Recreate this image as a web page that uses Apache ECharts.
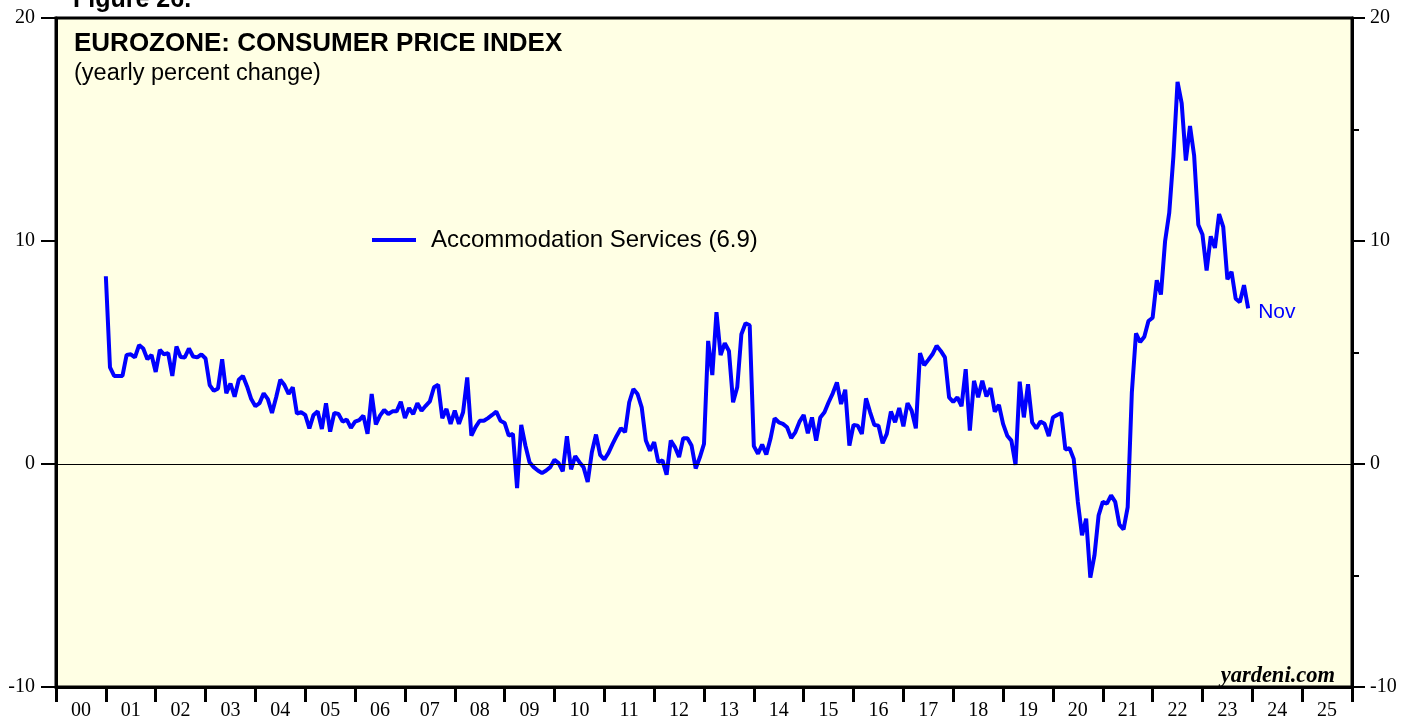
<!DOCTYPE html>
<html>
<head>
<meta charset="utf-8">
<script src="https://cdn.jsdelivr.net/npm/echarts@6/dist/echarts.min.js"></script>
<style>
html,body{margin:0;padding:0;background:#fff;}
#chart{width:1417px;height:721px;}
</style>
</head>
<body>
<div id="chart"></div>
<script>
// Monthly series starts Dec 2000 and ends Nov 2023
const startYear = 2000;
const startMonth = 12;
const seriesName = 'Accommodation Services (6.9)';
const lastLabel = 'Nov';
const yearLabels = ['00','01','02','03','04','05','06','07','08','09','10','11','12','13','14','15','16','17','18','19','20','21','22','23','24','25'];
const yTicks = [-10, 0, 10, 20];

const vals2000_2004 = [8.42,
  4.33,3.95,3.95,3.95,4.89,4.92,4.78,5.33,5.18,4.70,4.89,4.13,
  5.12,4.92,4.97,3.95,5.27,4.80,4.78,5.18,4.82,4.78,4.92,4.73,
  3.54,3.28,3.39,4.70,3.17,3.61,3.02,3.78,3.95,3.48,2.91,2.59,
  2.73,3.17,2.91,2.29,2.99,3.78,3.54,3.14,3.44,2.26,2.32,2.20];
const vals2005_2008 = [
  1.60,2.20,2.36,1.57,2.72,1.45,2.29,2.24,1.90,1.99,1.62,1.90,
  1.97,2.17,1.35,3.14,1.77,2.17,2.42,2.24,2.36,2.36,2.79,2.06,
  2.51,2.24,2.72,2.39,2.61,2.81,3.44,3.55,2.05,2.47,1.80,2.39,
  1.80,2.32,3.88,1.27,1.65,1.94,1.94,2.06,2.20,2.35,1.94,1.84];
const vals2009_2012 = [
  1.27,1.35,-1.08,1.75,0.83,0.08,-0.14,-0.29,-0.41,-0.29,-0.14,0.19,
  0.04,-0.33,1.25,-0.24,0.35,0.08,-0.14,-0.81,0.53,1.32,0.41,0.20,
  0.50,0.90,1.27,1.60,1.43,2.77,3.36,3.14,2.54,1.05,0.60,0.98,
  0.08,0.16,-0.48,1.05,0.76,0.31,1.16,1.16,0.83,-0.20,0.30,0.90];
const vals2013_2016 = [
  5.52,3.99,6.81,4.88,5.42,5.07,2.77,3.44,5.82,6.31,6.22,0.80,
  0.46,0.87,0.43,1.13,2.05,1.87,1.80,1.65,1.16,1.43,1.90,2.20,
  1.38,2.09,1.05,2.09,2.32,2.77,3.17,3.66,2.69,3.33,0.83,1.75,
  1.72,1.35,2.94,2.32,1.75,1.72,0.93,1.35,2.35,1.87,2.51,1.69];
const vals2017_2020 = [
  2.73,2.39,1.60,4.97,4.43,4.67,4.92,5.30,5.07,4.78,2.99,2.79,
  2.99,2.59,4.25,1.50,3.73,2.99,3.73,3.03,3.40,2.35,2.65,1.80,
  1.27,1.05,-0.04,3.69,2.09,3.58,1.87,1.60,1.90,1.80,1.25,2.09,
  2.20,2.29,0.65,0.71,0.23,-1.70,-3.20,-2.45,-5.10,-4.10,-2.30,-1.70];
const vals2021_2023 = [
  -1.78,-1.41,-1.70,-2.72,-2.93,-1.93,3.21,5.86,5.47,5.71,6.41,6.56,
  8.24,7.60,9.99,11.26,13.78,17.14,16.17,13.61,15.16,13.82,10.73,10.29,
  8.68,10.21,9.69,11.21,10.63,8.28,8.62,7.41,7.26,8.02,6.98];

const values = [].concat(vals2000_2004, vals2005_2008, vals2009_2012, vals2013_2016, vals2017_2020, vals2021_2023);
const seriesData = values.map(function (v, i) {
  const m = startMonth + i;
  return [startYear + m / 12, v];
});

const chart = echarts.init(document.getElementById('chart'));
const serif = 'Liberation Serif';
const sans = 'Liberation Sans';
chart.setOption({
  animation: false,
  backgroundColor: '#ffffff',
  grid: {
    left: 56, right: 65, top: 18, bottom: 32,
    show: true, backgroundColor: '#FFFFE4', borderColor: '#000', borderWidth: 3
  },
  title: [
    { text: 'Figure 26.', left: 68, top: -17, textStyle: { fontFamily: sans, fontWeight: 'bold', fontSize: 25, color: '#000' } },
    { text: 'EUROZONE: CONSUMER PRICE INDEX', left: 69, top: 26, textStyle: { fontFamily: sans, fontWeight: 'bold', fontSize: 26, color: '#000' } },
    { text: '(yearly percent change)', left: 69, top: 57, textStyle: { fontFamily: sans, fontWeight: 'normal', fontSize: 23.5, color: '#000' } },
    { text: 'yardeni.com', right: 77, top: 660, textStyle: { fontFamily: serif, fontWeight: 'bold', fontStyle: 'italic', fontSize: 22.5, color: '#000' } }
  ],
  legend: {
    data: [seriesName], left: 372, top: 228, padding: 0, icon: 'rect', itemWidth: 44, itemHeight: 4,
    textStyle: { fontFamily: sans, fontSize: 24, color: '#000', padding: [0, 0, 0, 10] }
  },
  xAxis: [
    {
      type: 'value', min: 2000, max: 2026, interval: 1,
      axisLine: { show: true, onZero: false, lineStyle: { color: '#000', width: 3 } },
      axisTick: { show: true, inside: false, length: 15, lineStyle: { color: '#000', width: 3 } },
      axisLabel: { show: false }, splitLine: { show: false }
    },
    {
      type: 'category', data: yearLabels, position: 'bottom', boundaryGap: true,
      axisLine: { show: false, onZero: false }, axisTick: { show: false }, splitLine: { show: false },
      axisLabel: { fontFamily: serif, fontSize: 20, color: '#000', margin: 14, interval: 0 }
    }
  ],
  yAxis: [
    {
      type: 'value', position: 'left', min: yTicks[0], max: yTicks[yTicks.length - 1], interval: 10,
      axisLine: { show: true, lineStyle: { color: '#000', width: 3 } },
      axisTick: { show: true, inside: false, length: 15, lineStyle: { color: '#000', width: 2 } },
      axisLabel: { fontFamily: serif, fontSize: 20, color: '#000', margin: 21 },
      splitLine: { show: false }
    },
    {
      type: 'value', position: 'right', min: yTicks[0], max: yTicks[yTicks.length - 1], interval: 10,
      axisLine: { show: true, lineStyle: { color: '#000', width: 3 } },
      axisTick: { show: true, inside: false, length: 13, lineStyle: { color: '#000', width: 2 } },
      minorTick: { show: true, splitNumber: 2, length: 7, lineStyle: { color: '#000', width: 2 } },
      axisLabel: { fontFamily: serif, fontSize: 20, color: '#000', margin: 18 },
      splitLine: { show: false }
    }
  ],
  series: [{
    name: seriesName, type: 'line', xAxisIndex: 0, yAxisIndex: 0,
    data: seriesData, symbol: 'none', smooth: false,
    lineStyle: { color: '#0000FF', width: 4 }, itemStyle: { color: '#0000FF' },
    endLabel: { show: true, formatter: lastLabel, color: '#0000FF', fontFamily: sans, fontSize: 21, offset: [2, 4] },
    markLine: {
      silent: true, symbol: 'none', label: { show: false },
      lineStyle: { color: '#000', width: 1, type: 'solid' },
      data: [{ yAxis: 0 }]
    }
  }]
});
</script>
</body>
</html>
